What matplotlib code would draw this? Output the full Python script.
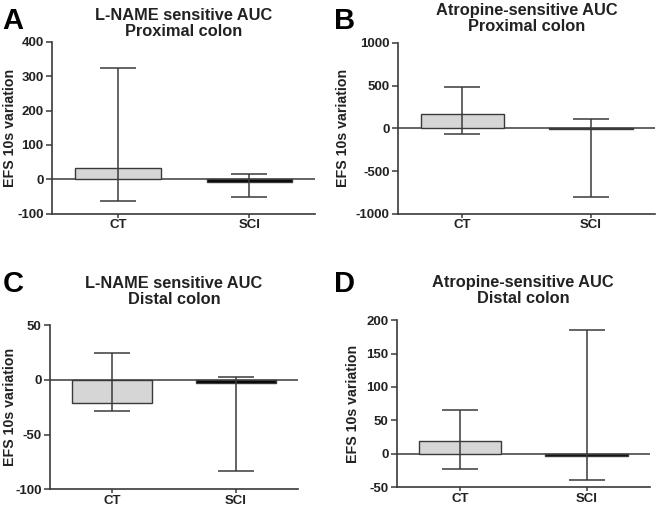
import matplotlib.pyplot as plt

plt.rcParams["font.family"] = ["Liberation Sans", "DejaVu Sans"]
plt.rcParams["font.weight"] = "bold"
plt.rcParams["axes.unicode_minus"] = False

groups = ["CT", "SCI"]

titles = ["L-NAME sensitive AUC\nProximal colon", "Atropine-sensitive AUC\nProximal colon",
          "L-NAME sensitive AUC\nDistal colon", "Atropine-sensitive AUC\nDistal colon"]
letters = ["A", "B", "C", "D"]

# bar heights and error bar ends (min / max) per panel
means_a = [34, -8]
upper_a = [325, 17]
lower_a = [-62, -50]

means_b = [170, -10]
upper_b = [480, 113]
lower_b = [-72, -805]

means_c = [-21, -3]
upper_c = [25, 3]
lower_c = [-28.5, -83]

means_d = [19, -3]
upper_d = [66, 185]
lower_d = [-22.5, -39]

yticks_a = [-100, 0, 100, 200, 300, 400]
yticks_b = [-1000, -500, 0, 500, 1000]
yticks_c = [-100, -50, 0, 50]
yticks_d = [-50, 0, 50, 100, 150, 200]

panels = [
    (means_a, upper_a, lower_a, yticks_a, [0.079, 0.580, 0.399, 0.338], -0.133, (0.004, 0.987), 4),
    (means_b, upper_b, lower_b, yticks_b, [0.604, 0.580, 0.390, 0.336], -0.187, (0.507, 0.987), 8.5),
    (means_c, upper_c, lower_c, yticks_c, [0.076, 0.039, 0.376, 0.322], -0.135, (0.004, 0.470), 15.5),
    (means_d, upper_d, lower_d, yticks_d, [0.602, 0.043, 0.384, 0.328], -0.146, (0.507, 0.470), 12.5),
]

fig = plt.figure(figsize=(6.59, 5.09), dpi=100)
dark = "#3a3a3a"

for i, (means, upper, lower, yticks, rect, labx, letpos, tpad) in enumerate(panels):
    ax = fig.add_axes(rect)
    x = [0, 1]
    ax.bar(x, means, width=0.65, color=["#d6d6d6", "black"], edgecolor=dark, linewidth=1, zorder=2)
    yerr = [[m - lo for m, lo in zip(means, lower)], [up - m for m, up in zip(means, upper)]]
    ax.errorbar(x, means, yerr=yerr, fmt="none", ecolor=dark, elinewidth=1.1,
                capsize=13, capthick=1.1, zorder=3)
    ax.axhline(0, color=dark, linewidth=1.1, zorder=1)
    ax.set_xlim(-0.5, 1.5)
    ax.set_ylim(yticks[0], yticks[-1])
    ax.set_yticks(yticks)
    ax.set_xticks(x)
    ax.set_xticklabels(groups)
    ax.spines["top"].set_visible(False)
    ax.spines["right"].set_visible(False)
    for s in ["left", "bottom"]:
        ax.spines[s].set_color(dark)
        ax.spines[s].set_linewidth(1.2)
    ax.tick_params(axis="y", colors=dark, labelcolor="#222222", labelsize=9.5,
                   length=4, width=1.1, pad=2)
    ax.tick_params(axis="x", colors=dark, labelcolor="#222222", labelsize=9.5,
                   length=3, width=1.1, pad=1)
    ax.set_ylabel("EFS 10s variation", fontsize=10.2, fontweight="bold", color="#222222")
    ax.yaxis.set_label_coords(labx, 0.5)
    ax.set_title(titles[i], fontsize=11.8, fontweight="bold", color="#222222", pad=tpad,
                 linespacing=1.1)
    fig.text(letpos[0], letpos[1], letters[i], fontsize=21, fontweight="bold",
             ha="left", va="top", color="black")

plt.savefig("out.png", dpi=100)
